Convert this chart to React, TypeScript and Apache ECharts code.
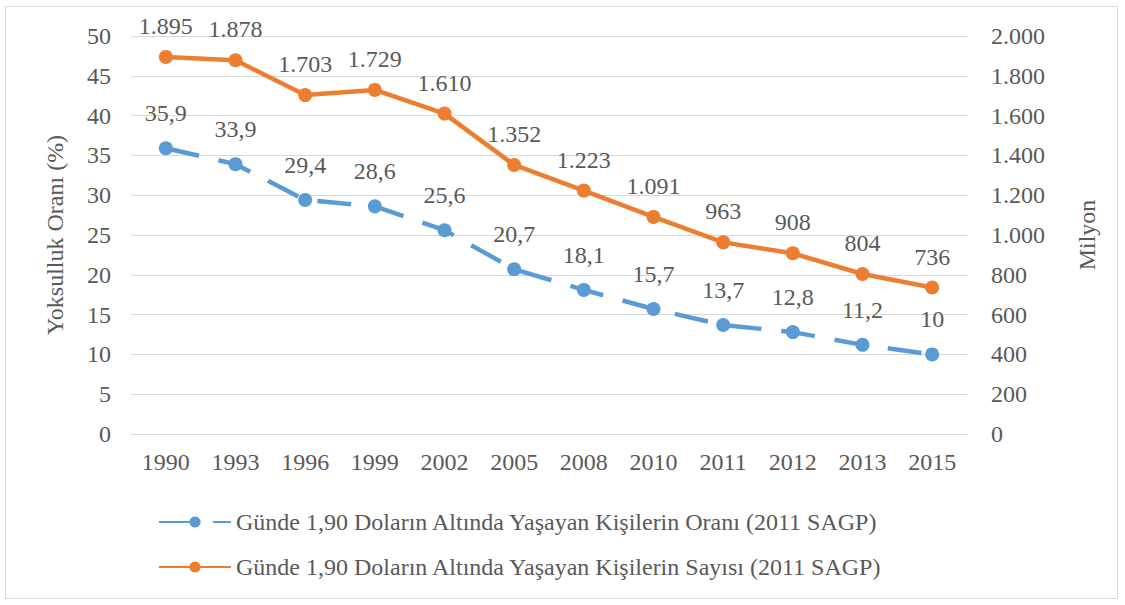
import React, { useEffect, useRef } from "react";
import * as echarts from "echarts";

const years = ["1990", "1993", "1996", "1999", "2002", "2005", "2008", "2010", "2011", "2012", "2013", "2015"];
const rateValues = [35.9, 33.9, 29.4, 28.6, 25.6, 20.7, 18.1, 15.7, 13.7, 12.8, 11.2, 10];
const countValues = [1895, 1878, 1703, 1729, 1610, 1352, 1223, 1091, 963, 908, 804, 736];
const rateName = "Günde 1,90 Doların Altında Yaşayan Kişilerin Oranı (2011 SAGP)";
const countName = "Günde 1,90 Doların Altında Yaşayan Kişilerin Sayısı (2011 SAGP)";

const FONT = "Liberation Serif, Times New Roman, serif";
const TXT = "#595959";
const FS = 24;

const fmtThousands = (v: number) => String(v).replace(/\B(?=(\d{3})+(?!\d))/g, ".");
const fmtComma = (v: number) => String(v).replace(".", ",");

export default function App() {
  const ref = useRef<HTMLDivElement>(null);
  useEffect(() => {
    const chart = echarts.init(ref.current!, undefined, { renderer: "svg" });
    chart.setOption({
      animation: false,
      backgroundColor: "#ffffff",
      textStyle: { fontFamily: FONT, color: TXT },
      graphic: [
        {
          type: "rect",
          shape: { x: 5.5, y: 6.5, width: 1112, height: 592 },
          style: { fill: "none", stroke: "#d9d9d9", lineWidth: 1 },
        },
      ],
      grid: { left: 131, right: 158, top: 36, bottom: 171, containLabel: false },
      legend: {
        orient: "vertical",
        left: 153,
        top: 505,
        itemWidth: 72,
        itemHeight: 14,
        itemGap: 21,
        textStyle: { fontFamily: FONT, fontSize: FS, color: TXT },
        data: [rateName, countName],
      },
      xAxis: {
        type: "category",
        data: years,
        axisLine: { show: true, lineStyle: { color: "#d9d9d9" } },
        axisTick: { show: false },
        axisLabel: { fontFamily: FONT, fontSize: FS, color: TXT, margin: 16 },
      },
      yAxis: [
        {
          type: "value",
          min: 0,
          max: 50,
          interval: 5,
          name: "Yoksulluk Oranı (%)",
          nameLocation: "middle",
          nameGap: 64,
          nameTextStyle: { fontFamily: FONT, fontSize: FS, color: TXT },
          axisLine: { show: false },
          axisTick: { show: false },
          axisLabel: { fontFamily: FONT, fontSize: FS, color: TXT, margin: 20 },
          splitLine: { lineStyle: { color: "#d9d9d9", width: 1 } },
        },
        {
          type: "value",
          min: 0,
          max: 2000,
          interval: 200,
          name: "Milyon",
          nameLocation: "middle",
          nameGap: 108,
          nameTextStyle: { fontFamily: FONT, fontSize: FS, color: TXT },
          axisLine: { show: false },
          axisTick: { show: false },
          splitLine: { show: false },
          axisLabel: {
            fontFamily: FONT,
            fontSize: FS,
            color: TXT,
            margin: 24,
            formatter: (v: number) => fmtThousands(v),
          },
        },
      ],
      series: [
        {
          name: rateName,
          type: "line",
          yAxisIndex: 0,
          data: rateValues,
          symbol: "circle",
          symbolSize: 14,
          color: "#5b9bd5",
          lineStyle: { width: 4.5, type: [34, 20], color: "#5b9bd5" },
          itemStyle: { color: "#5b9bd5" },
          label: {
            show: true,
            position: "top",
            distance: 16,
            fontFamily: FONT,
            fontSize: FS,
            color: TXT,
            formatter: (p: any) => fmtComma(p.value),
          },
        },
        {
          name: countName,
          type: "line",
          yAxisIndex: 1,
          data: countValues,
          symbol: "circle",
          symbolSize: 14,
          color: "#ed7d31",
          lineStyle: { width: 4.5, color: "#ed7d31" },
          itemStyle: { color: "#ed7d31" },
          label: {
            show: true,
            position: "top",
            distance: 12,
            fontFamily: FONT,
            fontSize: FS,
            color: TXT,
            formatter: (p: any) => fmtThousands(p.value),
          },
        },
      ],
    });
    return () => chart.dispose();
  }, []);
  return (
    <div
      ref={ref}
      style={{ position: "fixed", left: 0, top: 0, width: 1125, height: 605, background: "#fff" }}
    />
  );
}
